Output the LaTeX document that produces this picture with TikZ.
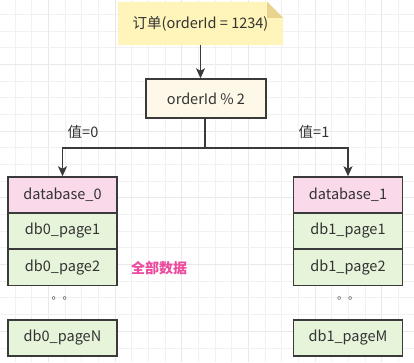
\documentclass[tikz,border=0pt]{standalone}
\usepackage{fontspec}
\setmainfont{Noto Sans CJK SC}
\usetikzlibrary{arrows.meta}
\definecolor{txt}{HTML}{333333}
\definecolor{edge}{HTML}{3A3A3A}
\definecolor{notefill}{HTML}{FFF4BA}
\definecolor{notefold}{HTML}{E8D48F}
\definecolor{cream}{HTML}{FDF8E8}
\definecolor{pinkfill}{HTML}{FADAEA}
\definecolor{greenfill}{HTML}{E6F4DA}
\definecolor{hot}{HTML}{EC4A9E}
\definecolor{gridminor}{HTML}{F1F1F1}
\definecolor{gridmajor}{HTML}{E9E9E9}
\tikzset{
  lbl/.style={font=\fontsize{14.5}{16}\selectfont, text=txt},
  box/.style={draw=edge, line width=1.5pt, inner sep=0pt, lbl},
  rowpink/.style={box, fill=pinkfill, minimum width=109pt, minimum height=36pt},
  rowgreen/.style={box, fill=greenfill, minimum width=109pt, minimum height=36pt},
  conn/.style={draw=edge, line width=1.4pt},
  arr/.style={conn, -{Stealth[length=10pt,width=9pt,inset=2.5pt]}},
}
\begin{document}
\begin{tikzpicture}[x=1pt,y=-1pt]
\useasboundingbox (0,0) rectangle (414,362);
\fill[white] (0,0) rectangle (414,362);
% grid
\foreach \k in {0,...,24} {
  \pgfmathsetmacro{\xx}{15+16.67*(\k-0)}
  \pgfmathsetmacro{\yy}{14.5+16.67*(\k-0)}
  \pgfmathtruncatemacro{\mm}{mod(\k,4)}
  \ifnum\mm=2
    \draw[gridmajor, line width=1pt] (\xx,0) -- (\xx,362);
  \else
    \draw[gridminor, line width=0.8pt] (\xx,0) -- (\xx,362);
  \fi
  \pgfmathtruncatemacro{\nn}{mod(\k,4)}
  \ifnum\nn=3
    \draw[gridmajor, line width=1pt] (0,\yy) -- (414,\yy);
  \else
    \draw[gridminor, line width=0.8pt] (0,\yy) -- (414,\yy);
  \fi
}
% note
\node[lbl, minimum width=165pt, minimum height=43pt, inner sep=0pt] (note) at (200.5,23.5) {};
\fill[notefill] (note.north west) -- ([xshift=-16pt]note.north east) -- ([yshift=-16pt]note.north east) -- (note.south east) -- (note.south west) -- cycle;
\fill[notefold] ([xshift=-16pt]note.north east) -- ([yshift=-16pt]note.north east) -- ([xshift=-16pt,yshift=-16pt]note.north east) -- cycle;
\node[lbl, inner sep=0pt] (notetext) at (note.center) {订单(orderId = 1234)};
% mod box
\node[box, fill=cream, minimum width=120pt, minimum height=39pt] (mod) at (206,98.5) {orderId \% 2};
\draw[arr] (note.south) -- (note.south |- mod.north);
% stacks
\node[rowpink]  (db0) at (62.5,195) {database\_0};
\node[rowgreen] (p01) at (62.5,231) {db0\_page1};
\node[rowgreen] (p02) at (62.5,267.5) {db0\_page2};
\node[lbl, font=\fontsize{11}{12}\selectfont] (d0) at (62.5,298) {。。};
\node[rowgreen] (p0n) at (62.5,338) {db0\_pageN};
\node[rowpink]  (db1) at (348,195) {database\_1};
\node[rowgreen] (p11) at (348,231) {db1\_page1};
\node[rowgreen] (p12) at (348,267.5) {db1\_page2};
\node[lbl, font=\fontsize{11}{12}\selectfont] (d1) at (348,298) {。。};
\node[rowgreen] (p1m) at (348,338) {db1\_pageM};
% branch
\coordinate (split) at (205,148);
\draw[conn] ([xshift=-1pt]mod.south) -- (split);
\draw[arr] (split) -| (db0.north);
\draw[arr] (split) -| (db1.north);
\node[lbl] (v0) at (83,131.5) {值=0};
\node[lbl] (v1) at (314,131.5) {值=1};
% label
\node[font=\fontsize{14}{16}\selectfont\bfseries, text=hot] (all) at (159,268) {全部数据};
\end{tikzpicture}
\end{document}
